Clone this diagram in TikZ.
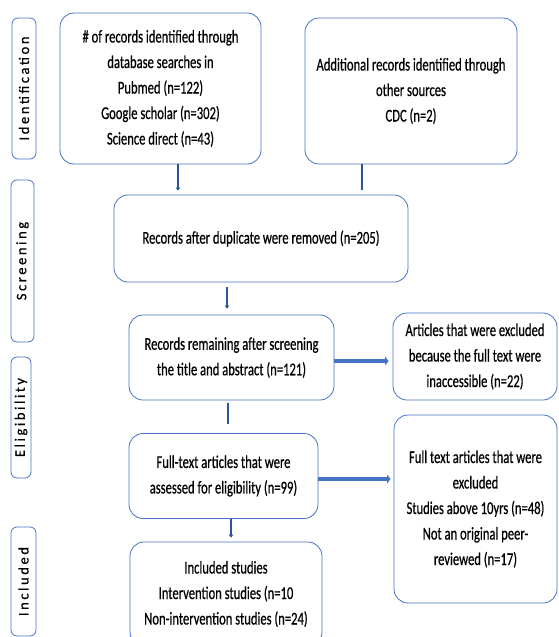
\documentclass[tikz,border=0pt]{standalone}
\usepackage{fontspec}
\setmainfont{Carlito}[FakeStretch=0.70,FakeBold=0.6]
\newfontfamily\sidefont{Carlito}[LetterSpace=18,FakeBold=0.5]
\usetikzlibrary{arrows.meta,calc}
\definecolor{bord}{RGB}{68,114,196}
\definecolor{conn}{RGB}{47,85,151}
\begin{document}
\begin{tikzpicture}[x=1pt,y=-1pt,
  box/.style={draw=bord, line width=0.8pt, rounded corners=14pt, align=center,
    font=\fontsize{18}{25.5}\selectfont, inner sep=0pt},
  side/.style={draw=bord, line width=0.8pt, rounded corners=6pt, inner sep=0pt,
    rotate=90, font=\sidefont\fontsize{14.5}{16}\selectfont},
  thinarr/.style={draw=conn, line width=1.3pt, -{Triangle[length=3pt,width=4.5pt]}},
  thickline/.style={draw=conn, line width=2.2pt},
  fatarr/.style={draw=bord, line width=4.5pt, -{Triangle[length=3.5pt,width=8.5pt]}}]
\useasboundingbox (0,0) rectangle (558,637);
\clip (0,0) rectangle (558,637);
% side labels
\node[side, minimum width=141pt, minimum height=24pt] (l1) at (24,88.5) {Identification};
\node[side, minimum width=162pt, minimum height=23pt] (l2) at (22.5,261) {Screening};
\node[side, minimum width=121pt, minimum height=20pt] (l3) at (21,417.5) {Eligibility};
\node[side, minimum width=109pt, minimum height=25pt] (l4) at (23.5,581.5) {Included};
% boxes
\node[box, minimum width=201pt, minimum height=151pt] (b1) at (160.5,88.5)
  {\# of records identified through\\database searches in\\Pubmed (n=122)\\Google scholar (n=302)\\Science direct (n=43)};
\node[box, minimum width=212pt, minimum height=146pt] (b2) at (411,91)
  {Additional records identified through\\other sources\\CDC (n=2)};
\node[box, minimum width=294pt, minimum height=87pt] (b3) at (261,238.5)
  {Records after duplicate were removed (n=205)};
\node[box, minimum width=205pt, minimum height=85pt] (b4) at (231.5,357.5)
  {Records remaining after screening\\the title and abstract (n=121)};
\node[box, minimum width=164pt, minimum height=87pt] (b5) at (475,356.5)
  {Articles that were excluded\\because the full text were\\inaccessible (n=22)};
\node[box, minimum width=189pt, minimum height=85pt] (b6) at (223.5,476)
  {Full-text articles that were\\assessed for eligibility (n=99)};
\node[box, minimum width=163pt, minimum height=188pt] (b7) at (475.5,509)
  {Full text articles that were\\excluded\\Studies above 10yrs (n=48)\\Not an original peer-\\reviewed (n=17)};
\node[box, minimum width=192pt, minimum height=104pt] (b8) at (226,594)
  {Included studies\\Intervention studies (n=10\\Non-intervention studies (n=24)};
% connector columns
\coordinate (x1) at (178,0);
\coordinate (x2) at (362,0);
\coordinate (x3) at (227,0);
\coordinate (x4) at (228,0);
\coordinate (x5) at (231,0);
\coordinate (y1) at (0,361);
\coordinate (y2) at (0,479);
\draw[thinarr, shorten >=4pt] (x1 |- b1.south) -- (x1 |- b3.north);
\draw[thickline, shorten >=5pt] (x2 |- b2.south) -- (x2 |- b3.north);
\draw[thinarr, shorten <=5pt, shorten >=6pt] (x3 |- b3.south) -- (x3 |- b4.north);
\draw[fatarr, shorten >=4pt] (y1 -| b4.east) -- (y1 -| b5.west);
\draw[thickline, shorten <=3pt, shorten >=9pt] (x4 |- b4.south) -- (x4 |- b6.north);
\draw[fatarr, shorten >=3pt] (y2 -| b6.east) -- (y2 -| b7.west);
\draw[thinarr, shorten >=4pt] (x5 |- b6.south) -- (x5 |- b8.north);
\end{tikzpicture}
\end{document}
